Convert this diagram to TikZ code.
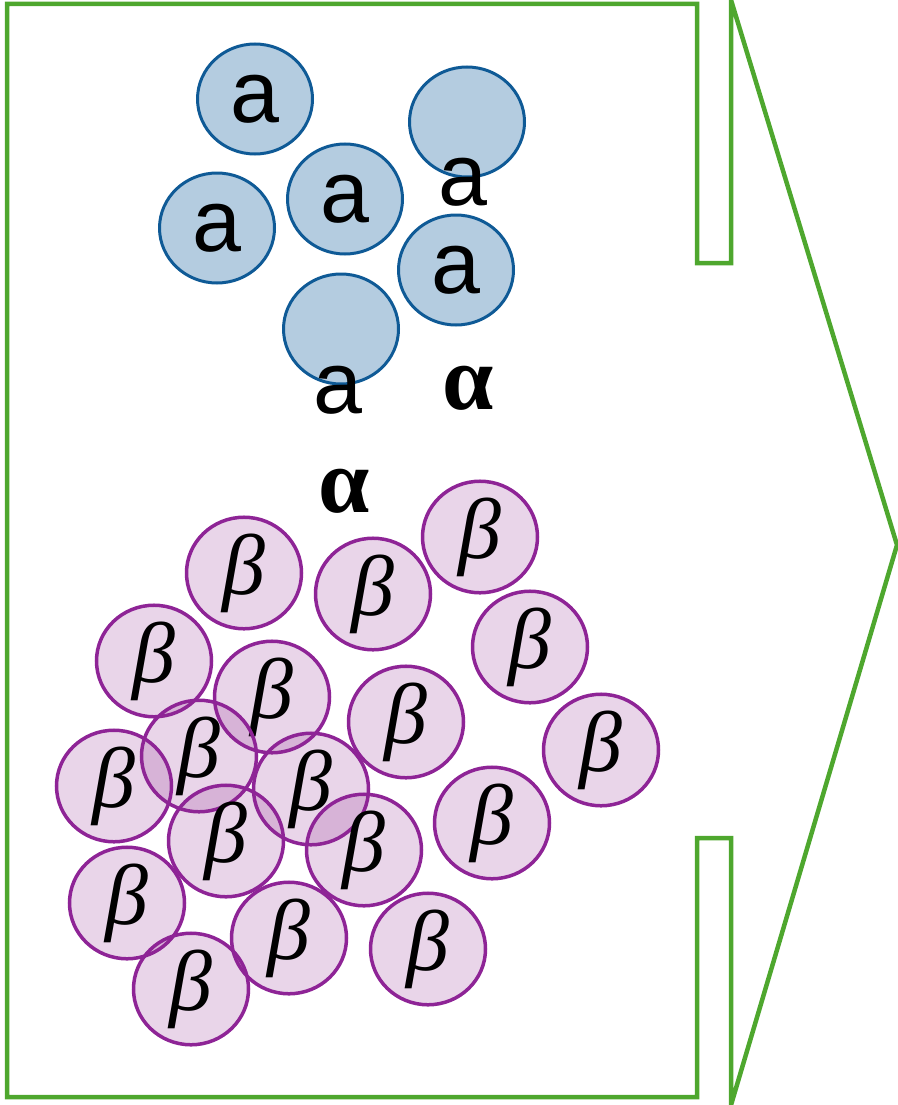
\documentclass[tikz,border=0pt]{standalone}
\usepackage{fontspec}
\setmainfont{Liberation Sans}
\newfontfamily\greekfont{Liberation Serif}
\usepackage{tikz}
\usetikzlibrary{shapes.geometric}
\definecolor{frame}{HTML}{4EA72E}
\definecolor{blueline}{HTML}{0F5A96}
\definecolor{bluefill}{HTML}{B4CCE0}
\definecolor{purpline}{HTML}{8E2496}
\definecolor{purpfill}{HTML}{912D91}

\begin{document}
\begin{tikzpicture}[
    x=1pt, y=-1pt,
    blob/.style={ellipse, minimum width=115pt, minimum height=110pt, inner sep=0pt},
    aball/.style={blob, draw=blueline, fill=bluefill, line width=3pt,
      font=\fontsize{88}{88}\selectfont},
    bball/.style={blob, draw=purpline, line width=3.5pt, fill=purpfill,
      fill opacity=0.2, text opacity=1, font=\fontsize{86}{86}\selectfont\greekfont\itshape},
    alab/.style={font=\fontsize{88}{88}\selectfont, inner sep=0pt},
    alph/.style={font=\fontsize{92}{92}\selectfont\greekfont\bfseries, inner sep=0pt}
  ]
  \useasboundingbox (0,0) rectangle (897,1105);

  % outline of the vessel
  \draw[frame, line width=4.5pt] (7,4) -- (697,4) -- (697,263) -- (731,263)
    -- (731,0) -- (897,545) -- (731,1105) -- (731,838) -- (697,838)
    -- (697,1097) -- (7,1097) -- cycle;

  % alpha particles
  \node[aball] (a1) at (255,99)  {a};
  \node[aball] (a2) at (467,122) {};
  \node[aball] (a3) at (217,228) {a};
  \node[aball] (a4) at (345,199) {a};
  \node[aball] (a5) at (456,270) {a};
  \node[aball] (a6) at (341,329) {};
  \node[alab] (la2) at (463,182) {a};
  \node[alab] (la6) at (338,390) {a};
  \node[alph] (al1) at (468,388) {α};
  \node[alph] (al2) at (344,491) {α};

  % beta particles
  \node[bball] (b1)  at (244,573)  {β};
  \node[bball] (b2)  at (373,594)  {β};
  \node[bball] (b3)  at (480,537)  {β};
  \node[bball] (b4)  at (154,661)  {β};
  \node[bball] (b5)  at (272,697)  {β};
  \node[bball] (b6)  at (530,647)  {β};
  \node[bball] (b7)  at (406,722)  {β};
  \node[bball] (b8)  at (199,756)  {β};
  \node[bball] (b9)  at (601,750)  {β};
  \node[bball] (b10) at (114,786)  {β};
  \node[bball] (b11) at (311,789)  {β};
  \node[bball] (b12) at (226,841)  {β};
  \node[bball] (b13) at (364,850)  {β};
  \node[bball] (b14) at (492,823)  {β};
  \node[bball] (b15) at (127,903)  {β};
  \node[bball] (b16) at (289,938)  {β};
  \node[bball] (b17) at (191,989)  {β};
  \node[bball] (b18) at (428,949)  {β};
\end{tikzpicture}
\end{document}
